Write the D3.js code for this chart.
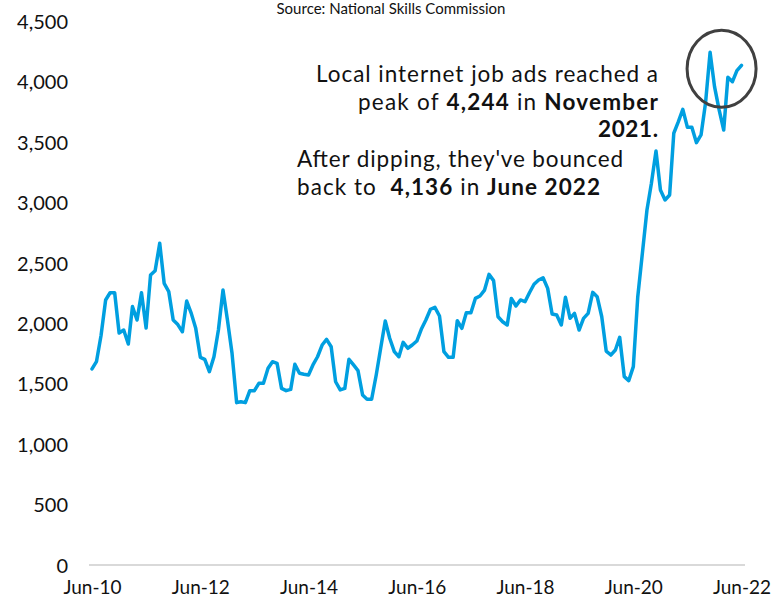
<!DOCTYPE html>
<html>
<head>
<meta charset="utf-8">
<script src="https://cdn.jsdelivr.net/npm/d3@7"></script>
<style>
  html, body { margin: 0; padding: 0; background: #fff; }
  svg { display: block; font-family: Lato, "Open Sans", sans-serif; }
</style>
</head>
<body>
<svg id="chart" width="775" height="601"></svg>
<script>
// Monthly local internet job ads, June 2010 to June 2022
const startMonth = new Date(2010, 5, 1);
const jobAds = [
  1623, 1683, 1900, 2194, 2254, 2254, 1920, 1945, 1829, 2139,
  2028, 2254, 1962, 2400, 2436, 2663, 2332, 2263, 2028, 1990,
  1931, 2185, 2083, 1959, 1719, 1703, 1600, 1724, 1945, 2276,
  2028, 1752, 1344, 1352, 1344, 1443, 1443, 1504, 1504, 1628,
  1683, 1669, 1462, 1443, 1454, 1661, 1587, 1579, 1573, 1656,
  1724, 1821, 1868, 1807, 1517, 1449, 1462, 1703, 1656, 1609,
  1407, 1372, 1372, 1573, 1794, 2020, 1877, 1766, 1724, 1843,
  1794, 1821, 1854, 1951, 2028, 2117, 2133, 2061, 1766, 1719,
  1719, 2022, 1959, 2088, 2088, 2207, 2227, 2276, 2406, 2354,
  2055, 2014, 1987, 2207, 2144, 2194, 2180, 2254, 2324, 2359,
  2378, 2290, 2078, 2069, 1987, 2216, 2042, 2083, 1945, 2042,
  2083, 2257, 2221, 2055, 1771, 1738, 1780, 1885, 1559, 1526,
  1642, 2221, 2580, 2939, 3160, 3427, 3104, 3022, 3063, 3574,
  3670, 3772, 3623, 3623, 3496, 3560, 3822, 4244, 3960, 3767,
  3601, 4037, 4001, 4092, 4136
];
const yTicks = [0, 500, 1000, 1500, 2000, 2500, 3000, 3500, 4000, 4500];
const xTickLabels = ["Jun-10", "Jun-12", "Jun-14", "Jun-16", "Jun-18", "Jun-20", "Jun-22"];

const series = jobAds.map((v, i) => ({ date: d3.timeMonth.offset(startMonth, i), value: v }));
const xTickDates = xTickLabels.map((_, i) => d3.timeMonth.offset(startMonth, i * 24));

const svg = d3.select("#chart");

const x = d3.scaleTime()
  .domain([startMonth, series[series.length - 1].date])
  .range([92, 741.5]);
const y = d3.scaleLinear().domain([0, 4500]).range([565, 21.4]);

// zero baseline
svg.append("line")
  .attr("x1", 89).attr("x2", 745)
  .attr("y1", y(0)).attr("y2", y(0))
  .attr("stroke", "#d9d9d9").attr("stroke-width", 2);

// y axis labels
const yAxis = d3.axisLeft(y)
  .tickValues(yTicks)
  .tickSize(0)
  .tickPadding(0)
  .tickFormat(d3.format(","));
svg.append("g")
  .attr("transform", "translate(68,0)")
  .call(yAxis)
  .call(g => g.select(".domain").remove())
  .call(g => g.selectAll("text")
    .attr("font-family", "Lato, sans-serif")
    .attr("font-size", 20)
    .attr("fill", "#111")
    .attr("dy", "0.35em"));

// x axis labels
const xAxis = d3.axisBottom(x)
  .tickValues(xTickDates)
  .tickSize(0)
  .tickPadding(0)
  .tickFormat((d, i) => xTickLabels[i]);
svg.append("g")
  .attr("transform", "translate(0,580)")
  .call(xAxis)
  .call(g => g.select(".domain").remove())
  .call(g => g.selectAll("text")
    .attr("font-family", "Lato, sans-serif")
    .attr("font-size", 19)
    .attr("fill", "#111")
    .attr("dy", "0.75em"));

// data line
const line = d3.line()
  .x(d => x(d.date))
  .y(d => y(d.value));
svg.append("path")
  .datum(series)
  .attr("d", line)
  .attr("fill", "none")
  .attr("stroke", "#009fe0")
  .attr("stroke-width", 3.5)
  .attr("stroke-linejoin", "round")
  .attr("stroke-linecap", "round");

// source note
svg.append("text")
  .attr("x", 391).attr("y", 14)
  .attr("text-anchor", "middle")
  .attr("font-size", 15)
  .attr("fill", "#111")
  .text("Source: National Skills Commission");

// annotation text, each line stretched to its set width
const annoLines = [
  { x: 658, y: 82, anchor: "end", width: 342, parts: [["Local internet job ads reached a", false]] },
  { x: 658, y: 110, anchor: "end", width: 300, parts: [["peak of ", false], ["4,244", true], [" in ", false], ["November", true]] },
  { x: 658, y: 137, anchor: "end", width: 60, parts: [["2021.", true]] },
  { x: 297, y: 167, anchor: "start", width: 326, parts: [["After dipping, they've bounced", false]] },
  { x: 297, y: 195, anchor: "start", width: 303, parts: [["back to  ", false], ["4,136", true], [" in ", false], ["June 2022", true]] }
];
const anno = svg.append("g")
  .attr("font-size", 22.5)
  .attr("fill", "#111");
annoLines.forEach(l => {
  const t = anno.append("text")
    .attr("x", l.x).attr("y", l.y)
    .attr("text-anchor", l.anchor)
    .attr("textLength", l.width)
    .attr("lengthAdjust", "spacing")
    .attr("xml:space", "preserve")
    .style("white-space", "pre");
  l.parts.forEach(([s, bold]) => {
    t.append("tspan").attr("font-weight", bold ? 700 : 400).text(s);
  });
});

// highlight ring around the recent peak
const peak = series[137];
svg.append("ellipse")
  .attr("cx", x(peak.date) + 11.5)
  .attr("cy", y(peak.value) + 16.5)
  .attr("rx", 34.5).attr("ry", 38.5)
  .attr("fill", "none")
  .attr("stroke", "#404040")
  .attr("stroke-width", 3);
</script>
</body>
</html>
